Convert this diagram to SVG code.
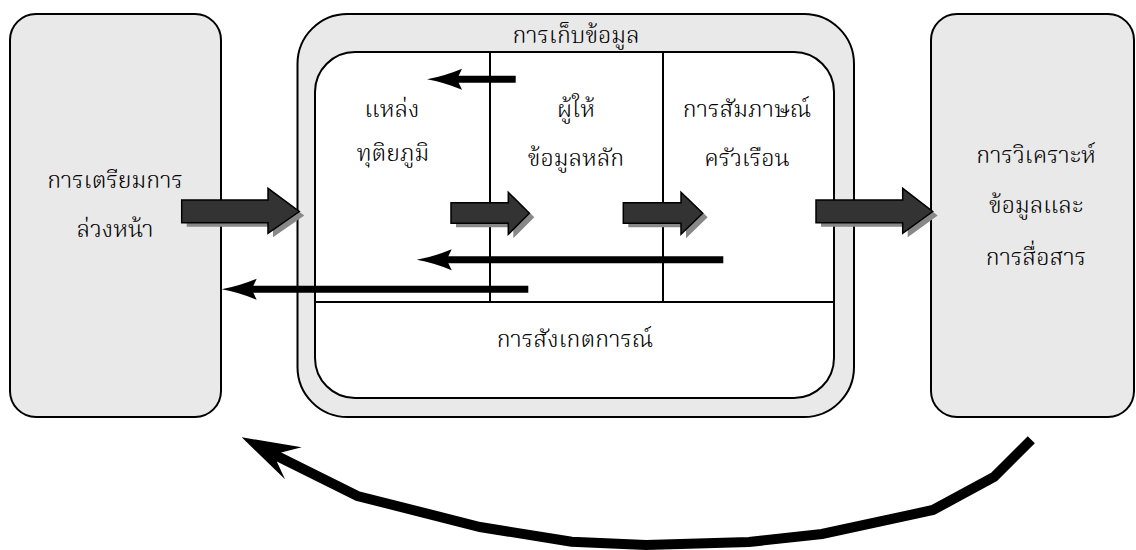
<svg xmlns="http://www.w3.org/2000/svg" width="1136" height="550" viewBox="0 0 1136 550">
<style>
.box{fill:#e9e9e9;stroke:#000;stroke-width:2}
.inner{fill:#fff;stroke:#000;stroke-width:2}
.div{stroke:#000;stroke-width:2;fill:none}
.t{font-family:"Noto Serif Thai","Noto Sans Thai","Loma","Garuda","Noto Sans","DejaVu Sans",sans-serif;font-size:23.5px;font-weight:300;fill:#000;text-anchor:middle}
.blk{fill:#333;stroke:#000;stroke-width:1.5;stroke-linejoin:miter}
.shd{fill:#888}
.ln{stroke:#000;stroke-width:7;fill:none}
.hd{fill:#000}
.curve{stroke:#000;stroke-width:10;fill:none;stroke-linejoin:miter}
</style>
<defs>
<path id="thin" d="M0,0 Q17,-3 35,-10.5 L30,0 L35,10.5 Q17,3 0,0 Z"/>
</defs>
<g id="prep">
<rect class="box" x="10" y="14" width="211" height="403" rx="26"/>
<text class="t" x="115" y="188">การเตรียมการ</text>
<text class="t" x="115" y="237">ล่วงหน้า</text>
</g>
<g id="collect">
<rect class="box" x="297.5" y="14" width="556.5" height="403" rx="50"/>
<rect class="inner" x="315" y="52" width="519" height="346" rx="40"/>
<path class="div" d="M490,52 V302 M663,52 V302 M315,302 H834"/>
<text class="t" x="576" y="43">การเก็บข้อมูล</text>
</g>
<g id="secondary">
<text class="t" x="392" y="117">แหล่ง</text>
<text class="t" x="393" y="161">ทุติยภูมิ</text>
</g>
<g id="informant">
<text class="t" x="576" y="117">ผู้ให้</text>
<text class="t" x="576" y="166">ข้อมูลหลัก</text>
</g>
<g id="interview">
<text class="t" x="747" y="117">การสัมภาษณ์</text>
<text class="t" x="747" y="166">ครัวเรือน</text>
</g>
<g id="observe">
<text class="t" x="575" y="347">การสังเกตการณ์</text>
</g>
<g id="analysis">
<rect class="box" x="931" y="14" width="203" height="403" rx="26"/>
<text class="t" x="1036" y="163">การวิเคราะห์</text>
<text class="t" x="1036" y="213">ข้อมูลและ</text>
<text class="t" x="1036" y="265">การสื่อสาร</text>
</g>
<g id="connectors">
<g transform="translate(5,4)">
<polygon class="shd" points="181.7,200 268,200 268,188.3 299.3,211.5 268,233.3 268,222.7 181.7,222.7"/>
<polygon class="shd" points="451,202.7 508.3,202.7 508.3,192.3 529.3,213.3 508.3,234.3 508.3,223.3 451,223.3"/>
<polygon class="shd" points="623.3,202.7 681,202.7 681,192.3 702.7,213.3 681,234.3 681,223.3 623.3,223.3"/>
<polygon class="shd" points="816,200 902.7,200 902.7,188.3 932.7,211.5 902.7,233.3 902.7,222.7 816,222.7"/>
</g>
<polygon class="blk" points="181.7,200 268,200 268,188.3 299.3,211.5 268,233.3 268,222.7 181.7,222.7"/>
<polygon class="blk" points="451,202.7 508.3,202.7 508.3,192.3 529.3,213.3 508.3,234.3 508.3,223.3 451,223.3"/>
<polygon class="blk" points="623.3,202.7 681,202.7 681,192.3 702.7,213.3 681,234.3 681,223.3 623.3,223.3"/>
<polygon class="blk" points="816,200 902.7,200 902.7,188.3 932.7,211.5 902.7,233.3 902.7,222.7 816,222.7"/>
<line class="ln" x1="450" y1="79.3" x2="515.7" y2="79.3"/>
<use href="#thin" class="hd" transform="translate(427,79.3)"/>
<line class="ln" x1="440" y1="259.8" x2="723.3" y2="259.8"/>
<use href="#thin" class="hd" transform="translate(416.7,259.8)"/>
<line class="ln" x1="245" y1="289.3" x2="528.3" y2="289.3"/>
<use href="#thin" class="hd" transform="translate(221.7,289.3)"/>
<polyline class="curve" points="274,454.5 357.5,496 480,527 571.6,541.7 646,545 749,542 822,534 933,510 994,477 1031.3,439.7"/>
<polygon class="hd" points="241.7,437.3 301.7,447.3 281.2,452.5 276.8,461.5 285,479.3"/>
</g>
</svg>
